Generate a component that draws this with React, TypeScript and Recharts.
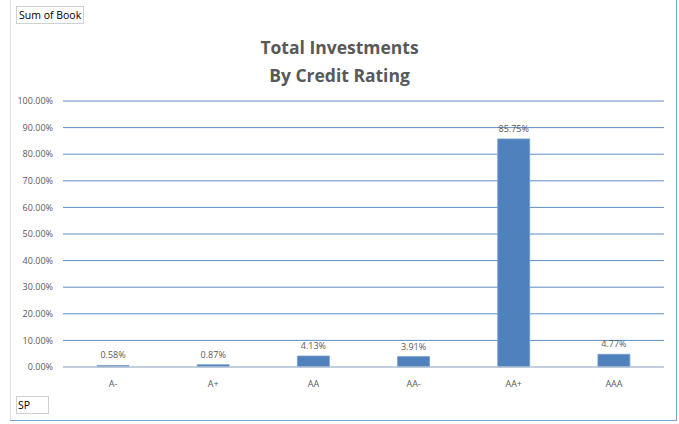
import React from "react";
import { BarChart, Bar, XAxis, YAxis, CartesianGrid, LabelList } from "recharts";

const ratings = ["A-", "A+", "AA", "AA-", "AA+", "AAA"];
const shares = [0.58, 0.87, 4.13, 3.91, 85.75, 4.77];
const yTicks = [0, 10, 20, 30, 40, 50, 60, 70, 80, 90, 100];

const data = ratings.map((r, i) => ({ rating: r, share: shares[i] }));

const gray = "#595959";
const blue = "#4f81bd";
const font = "'Open Sans', 'Liberation Sans', sans-serif";

export default function App() {
  return (
    <div style={{ position: "absolute", left: 0, top: 0, width: 679, height: 424, background: "#fff", fontFamily: font }}>
      {/* frame */}
      <div style={{ position: "absolute", left: 10, top: 0, width: 1, height: 421, background: "#e3e3e3" }} />
      <div style={{ position: "absolute", left: 10, top: 420, width: 667, height: 1, background: "#7aa0cf" }} />
      <div style={{ position: "absolute", left: 676, top: 0, width: 1, height: 421, background: "#7aa0cf" }} />

      <div style={{ position: "absolute", left: 16, top: 6, height: 16, padding: "0 2px", border: "1px solid #d0d0d0", fontSize: 10.5, lineHeight: "16px", color: "#000" }}>
        Sum of Book
      </div>
      <div style={{ position: "absolute", left: 16, top: 396, width: 30, height: 16, border: "1px solid #d0d0d0", fontSize: 10.5, lineHeight: "16px", color: "#000", paddingLeft: 1 }}>
        SP
      </div>

      <div style={{ position: "absolute", left: 0, top: 33, width: 679, textAlign: "center", fontSize: 17.5, fontWeight: 700, color: gray, lineHeight: "28px" }}>
        Total Investments
        <br />
        By Credit Rating
      </div>

      <BarChart
        width={679}
        height={424}
        data={data}
        margin={{ top: 101, right: 15, bottom: 0, left: 0 }}
        barCategoryGap="34%"
        style={{ position: "absolute", left: 0, top: 0 }}
      >
        <CartesianGrid vertical={false} stroke={blue} strokeOpacity={0.9} />
        <XAxis
          dataKey="rating"
          axisLine={{ stroke: "#d9d9d9" }}
          tickLine={false}
          tickMargin={8}
          height={57}
          tick={{ fontSize: 9, fill: gray, fontFamily: font }}
        />
        <YAxis
          domain={[0, 100]}
          ticks={yTicks}
          interval={0}
          width={63}
          axisLine={false}
          tickLine={false}
          tickSize={0}
          tickMargin={10}
          tickFormatter={(v: number) => `${v.toFixed(2)}%`}
          tick={{ fontSize: 9, fill: gray, fontFamily: font }}
        />
        <Bar dataKey="share" fill={blue} stroke="#7ba0cd" strokeWidth={0.8} isAnimationActive={false}>
          <LabelList
            dataKey="share"
            position="top"
            offset={7}
            formatter={(v: number) => `${v.toFixed(2)}%`}
            style={{ fontSize: 9, fill: gray, fontFamily: font }}
          />
        </Bar>
      </BarChart>
    </div>
  );
}
